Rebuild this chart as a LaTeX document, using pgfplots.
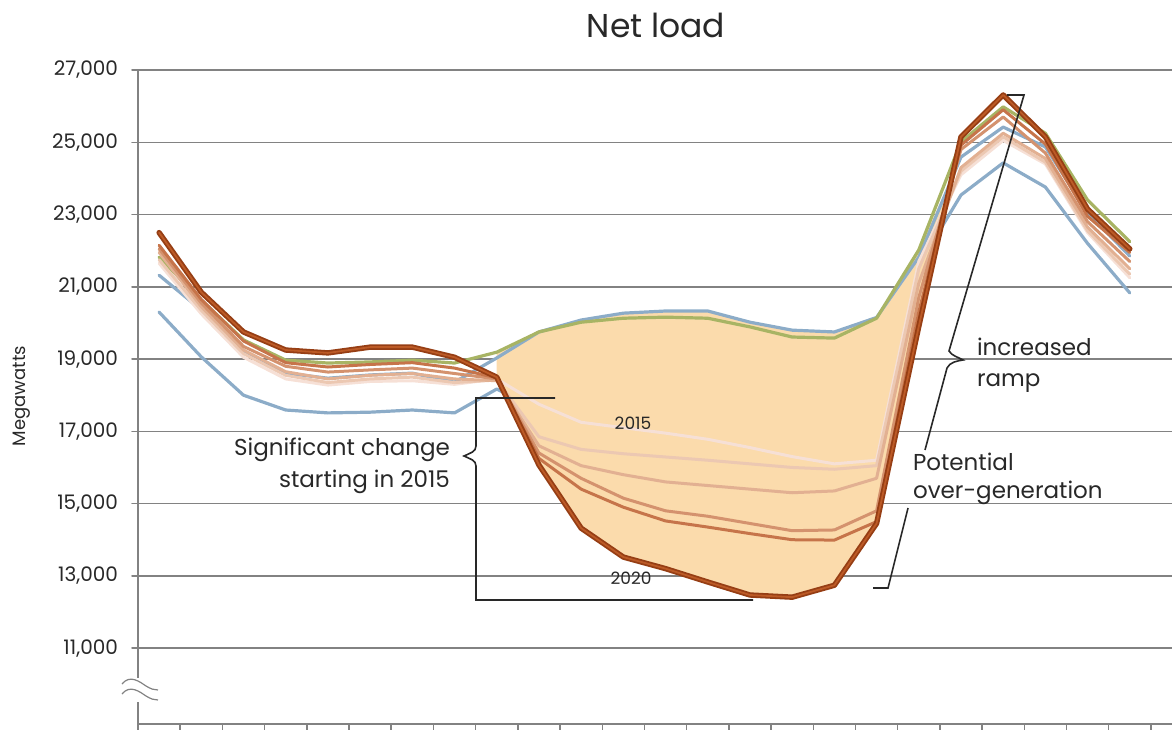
\documentclass[border=0pt]{standalone}
\usepackage{fontspec}
\setmainfont{Poppins}
\usepackage{pgfplots}
\pgfplotsset{compat=1.18}
\usepackage{pgfplotstable}

\definecolor{bluec}{RGB}{140,172,200}
\definecolor{greenc}{RGB}{168,180,100}
\definecolor{c15}{RGB}{246,224,214}
\definecolor{c16}{RGB}{236,200,178}
\definecolor{c17}{RGB}{226,176,146}
\definecolor{c18}{RGB}{212,146,110}
\definecolor{c19}{RGB}{198,116,74}
\definecolor{c20}{RGB}{150,62,20}
\definecolor{c20b}{RGB}{188,90,38}
\definecolor{fillc}{RGB}{251,219,172}
\definecolor{gridc}{RGB}{130,130,130}
\definecolor{txt}{RGB}{40,40,40}

\pgfplotstableread{
h lb ub g y15 y16 y17 y18 y19 y20
0 20300 21320 21820 21650 21750 21950 22050 22150 22500
1 19060 20360 20630 20250 20350 20450 20550 20650 20850
2 18000 19190 19530 19050 19150 19250 19350 19500 19750
3 17590 18610 18970 18450 18550 18650 18800 18900 19250
4 17510 18470 18890 18280 18350 18450 18640 18780 19170
5 17530 18560 18920 18380 18450 18550 18700 18850 19330
6 17590 18610 18970 18400 18500 18600 18750 18900 19330
7 17510 18360 18890 18300 18350 18450 18600 18750 19050
8 18170 19030 19190 18450 18420 18400 18450 18480 18500
9 17600 19750 19750 17750 16850 16600 16400 16250 16070
10 17200 20080 20020 17250 16500 16050 15700 15400 14320
11 17050 20270 20130 17100 16380 15800 15150 14900 13520
12 16900 20330 20160 16950 16290 15600 14800 14520 13200
13 16700 20330 20130 16780 16200 15500 14650 14350 12830
14 16500 20020 19890 16550 16100 15400 14450 14170 12470
15 16250 19800 19610 16300 16000 15300 14250 14000 12410
16 16100 19750 19580 16100 15950 15350 14270 13990 12740
17 16400 20150 20130 16200 16050 15700 14800 14500 14450
18 21600 21820 22020 21700 21500 21100 20700 20300 19900
19 23540 24590 25010 24100 24200 24300 24800 24920 25150
20 24430 25420 25980 25050 25150 25250 25700 25900 26310
21 23760 24870 25250 24400 24450 24550 24700 24950 25150
22 22200 23050 23400 22500 22550 22650 22800 22950 23150
23 20830 21850 22250 21250 21350 21500 21700 21950 22050
}\loadtbl

\pgfplotstableread{
h v
8 19190
9 19800
10 20080
11 20270
12 20330
13 20330
14 20020
15 19800
16 19750
17 20190
18 22020
19 24600
19 25150
18 19900
17 14450
16 12740
15 12410
14 12470
13 12830
12 13200
11 13520
10 14320
9 16070
8 18500
}\polytbl

\begin{document}
\begin{tikzpicture}
\begin{axis}[
  at={(69pt,2.5pt)}, anchor=south west,
  scale only axis, width=517pt, height=327pt,
  xmin=-0.5, xmax=24, ymin=8900, ymax=27000,
  axis x line=bottom, axis y line=left,
  axis line style={-, gridc, line width=0.75pt},
  xtick={-0.5,0.5,...,23.5}, xticklabels={},
  ytick={11000,13000,...,27000},
  ymajorgrids, grid style={gridc, line width=0.75pt},
  tick align=outside, major tick length=3pt,
  tick style={gridc, line width=0.75pt},
  yticklabel style={font=\fontsize{10}{12}\selectfont, text=txt, xshift=-3.5pt},
  /pgf/number format/assume math mode=true,
  /pgf/number format/1000 sep={,},
  scaled y ticks=false,
  line join=round, line cap=round,
]
\addplot[bluec, line width=1.6pt] table[x=h, y=lb] {\loadtbl};
\addplot[fill=fillc, draw=none] table[x=h, y=v] {\polytbl} -- cycle;
\addplot[bluec, line width=1.6pt] table[x=h, y=ub] {\loadtbl};
\addplot[greenc, line width=1.6pt] table[x=h, y=g] {\loadtbl};
\addplot[c15, line width=1.5pt] table[x=h, y=y15] {\loadtbl};
\addplot[c16, line width=1.5pt] table[x=h, y=y16] {\loadtbl};
\addplot[c17, line width=1.5pt] table[x=h, y=y17] {\loadtbl};
\addplot[c18, line width=1.5pt] table[x=h, y=y18] {\loadtbl};
\addplot[c19, line width=1.5pt] table[x=h, y=y19] {\loadtbl};
\addplot[c20, line width=2.7pt] table[x=h, y=y20] {\loadtbl};
\addplot[c20b, line width=0.9pt] table[x=h, y=y20] {\loadtbl};
\end{axis}

\begin{scope}[shift={(0pt,364.5pt)}, x=0.5pt, y=-0.5pt]
  \node[font=\fontsize{16.5}{19}\selectfont, text=txt] at (656,25) {Net load};
  \node[rotate=90, font=\fontsize{9}{10}\selectfont, text=txt] at (22,396) {Megawatts};
  % axis break
  \fill[white] (121,678) rectangle (159,702);
  \draw[gridc, line width=0.6pt] (122,684) .. controls (130,674) and (140,682) .. (146,686) .. controls (151,689) and (154,690) .. (158,690);
  \draw[gridc, line width=0.6pt] (122,694) .. controls (130,684) and (140,692) .. (146,696) .. controls (151,699) and (154,700) .. (158,700);
  % bracket 1
  \draw[txt, line width=0.8pt] (555,398) -- (476,398) -- (476,446)
     .. controls (476,452) and (470,453) .. (464,456)
     .. controls (470,459) and (476,460) .. (476,466) -- (476,600) -- (753,600);
  \node[anchor=east, align=right, font=\fontsize{11.5}{16}\selectfont, text=txt] at (457,466) {Significant change\\starting in 2015};
  % bracket 2
  \draw[txt, line width=0.8pt] (1007,95) -- (1024,95) -- (949,351)
     .. controls (952,356) and (958,357) .. (963,360)
     .. controls (957,361) and (950,362) .. (947,368) -- (925,450);
  \node[anchor=west, align=left, font=\fontsize{11.5}{15.5}\selectfont, text=txt] at (970,365) {increased\\ramp};
  % bracket 3
  \draw[txt, line width=0.8pt] (908,508) -- (888,588) -- (873,588);
  \node[anchor=west, align=left, font=\fontsize{11.5}{14}\selectfont, text=txt] at (906,479) {Potential\\over-generation};
  % year labels
  \node[font=\fontsize{8.5}{10}\selectfont, text=txt] at (633,423) {2015};
  \node[font=\fontsize{8.5}{10}\selectfont, text=txt] at (631,578) {2020};
\end{scope}
\pgfresetboundingbox
\path (0,0) rectangle (586pt,364.5pt);
\end{tikzpicture}
\end{document}
